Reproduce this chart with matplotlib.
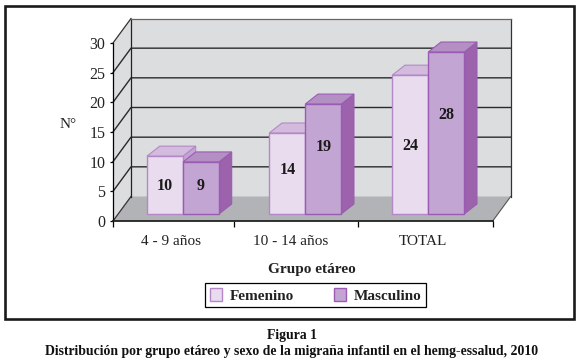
import matplotlib
matplotlib.use('Agg')
import matplotlib.pyplot as plt
from matplotlib.patches import Polygon, Patch, Rectangle

plt.rcParams['font.family'] = ['Liberation Serif', 'DejaVu Serif']

grupos = ['4 - 9 años', '10 - 14 años', 'TOTAL']
femenino = [10, 14, 24]
masculino = [9, 19, 28]
y_ticks = [0, 5, 10, 15, 20, 25, 30]

# geometria em pixels da imagem
W, H = 578, 363
X0, X1 = 113, 492.7
Y0, Y30 = 221, 43
PX_X = (X1 - X0) / 3
PX_Y = (Y0 - Y30) / 30

# profundidade da caixa e das barras, em unidades dos dados
DX, DY = 18 / PX_X, 24.5 / PX_Y
BX, BY = 12.7 / PX_X, 10 / PX_Y
BASE_Y = 7 / PX_Y
centros = [0.553, 1.519, 2.491]
centros_label = [0.458, 1.406, 2.45]
larg = 36 / PX_X
ESCALA = 0.975
# altura relativa do rotulo dentro de cada barra
frac_fem = [0.49, 0.54, 0.49]
frac_masc = [0.54, 0.61, 0.61]

fig = plt.figure(figsize=(W / 100, H / 100), dpi=100, facecolor='white')
ax = fig.add_axes([X0 / W, 1 - Y0 / H, (X1 - X0) / W, (Y0 - Y30) / H])
ax.set_xlim(0, 3)
ax.set_ylim(0, 30)
ax.set_facecolor('none')
for s in ['top', 'right']:
    ax.spines[s].set_visible(False)
ax.spines['left'].set_linewidth(0.9)
ax.spines['bottom'].set_linewidth(1.3)
ax.spines['bottom'].set_color('#222222')
ax.spines['left'].set_zorder(6)
ax.spines['bottom'].set_zorder(6)


def poly(pts, fc, ec='none', lw=0.0, z=1):
    ax.add_patch(Polygon(pts, closed=True, facecolor=fc, edgecolor=ec, linewidth=lw,
                         zorder=z, clip_on=False, joinstyle='miter'))


# paredes e chao
poly([(DX, DY), (3 + DX, DY), (3 + DX, 30 + DY), (DX, 30 + DY)], '#DCDDDF', z=1)
poly([(0, 0), (DX, DY), (DX, 30 + DY), (0, 30)], '#DCDDDF', z=1)
poly([(0, 0), (3, 0), (3 + DX, DY), (DX, DY)], '#B1B3B6', z=2)

# grelha
for v in y_ticks[1:-1]:
    ax.plot([0, DX, 3 + DX], [v, v + DY, v + DY], color='#2a2a2a', lw=1.0, zorder=2,
            clip_on=False)
ax.plot([0, DX], [0, DY], color='#333333', lw=0.9, zorder=3, clip_on=False)
ax.plot([0, DX], [30, 30 + DY], color='#333333', lw=0.9, zorder=3, clip_on=False)
ax.plot([3, 3 + DX], [0, DY], color='#555555', lw=0.8, zorder=3, clip_on=False)
ax.plot([DX, DX], [DY, 30 + DY], color='#222222', lw=0.9, zorder=3, clip_on=False)
ax.plot([3 + DX, 3 + DX], [DY, 30 + DY], color='#333333', lw=0.9, zorder=3, clip_on=False)
ax.plot([DX, 3 + DX], [30 + DY, 30 + DY], color='#666666', lw=0.9, zorder=3, clip_on=False)


def barra(x, v, frac, face, top, side, edge, z):
    h = v * ESCALA
    b = BASE_Y
    t = b + h
    poly([(x + larg, b), (x + larg + BX, b + BY), (x + larg + BX, t + BY), (x + larg, t)],
         side, edge, 0.8, z)
    poly([(x, t), (x + larg, t), (x + larg + BX, t + BY), (x + BX, t + BY)], top, edge, 0.8, z)
    poly([(x, b), (x + larg, b), (x + larg, t), (x, t)], face, edge, 1.0, z + 0.5)
    ax.text(x + larg / 2, b + h * frac, str(v), ha='center', va='center', fontsize=11.5,
            fontweight='bold', color='#1a1a1a', zorder=z + 1)


for i, c in enumerate(centros):
    barra(c - larg, femenino[i], frac_fem[i], '#E8DCEE', '#D3BBDD', '#C3A5D3', '#B488C8', 4 + i)
    barra(c, masculino[i], frac_masc[i], '#C3A5D3', '#B48FC4', '#9C62AC', '#9A5CB2', 5 + i)

# eixos
ax.set_yticks(y_ticks)
ax.set_xticks([0, 0.958, 1.938, 3])
ax.set_xticklabels([])
ax.set_xticks(centros_label, labels=grupos, minor=True)
ax.tick_params(axis='x', which='major', length=4, width=0.9, direction='out')
ax.tick_params(axis='x', which='minor', length=0, pad=10, labelsize=11, labelcolor='#222222')
ax.tick_params(axis='y', length=2.5, width=0.9, pad=3, labelsize=11.5, labelcolor='#222222')

fig.text(68 / W, 1 - 125 / H, 'N°', ha='center', va='center', fontsize=11, color='#222222')
fig.text(312 / W, 1 - 269 / H, 'Grupo etáreo', ha='center', va='center', fontsize=11,
         fontweight='bold', color='#222222')

leg = fig.legend(handles=[Patch(facecolor='#E8DCEE', edgecolor='#B488C8', label='Femenino'),
                          Patch(facecolor='#C3A5D3', edgecolor='#9A5CB2', label='Masculino')],
                 loc='center', bbox_to_anchor=(315.5 / W, 1 - 295.3 / H), ncol=2, fancybox=False,
                 edgecolor='black', framealpha=1, handlelength=0.8, handleheight=0.9,
                 columnspacing=2.6, handletextpad=0.5, borderpad=0.32,
                 prop={'size': 11, 'weight': 'bold'})
leg.get_frame().set_linewidth(0.9)
for t in leg.get_texts():
    t.set_color('#222222')

# moldura
fig.add_artist(Rectangle((5 / W, 1 - 318.7 / H), 568.5 / W, 313.2 / H, transform=fig.transFigure,
                         fill=False, edgecolor='#1a1a1a', linewidth=1.9))

fig.text(292 / W, 1 - 336 / H, 'Figura 1', ha='center', va='center', fontsize=9.9,
         fontweight='bold', color='#111111')
fig.text(292 / W, 1 - 351 / H, 'Distribución por grupo etáreo y sexo de la migraña infantil en el hemg-essalud, 2010',
         ha='center', va='center', fontsize=9.9, fontweight='bold', color='#111111')

fig.savefig('out.png', dpi=100)
